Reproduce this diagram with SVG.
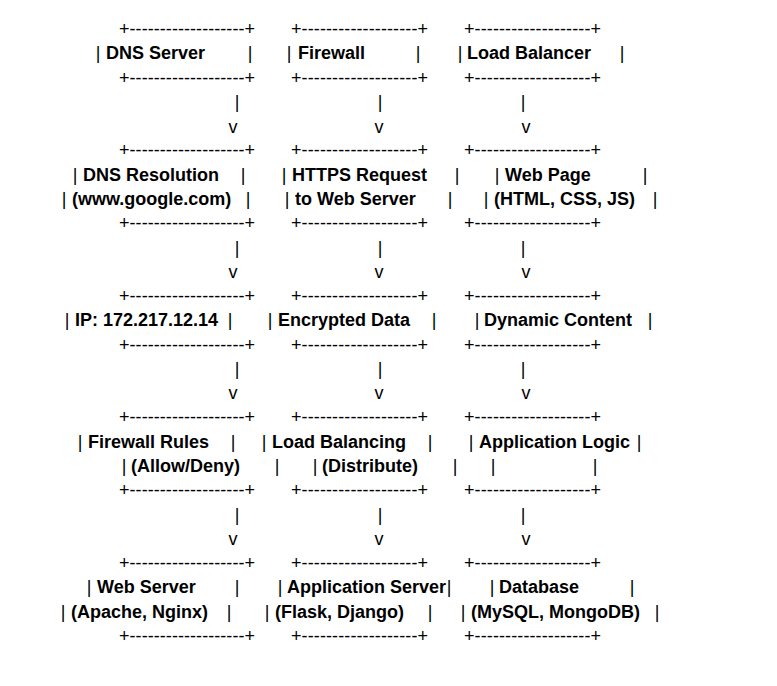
<svg xmlns="http://www.w3.org/2000/svg" width="777" height="686" viewBox="0 0 777 686">
<style>
text{font-family:"Liberation Sans",Arial,sans-serif;font-size:18px;fill:#000}
.b{font-weight:bold}
.p{text-anchor:middle}
</style>
<rect width="777" height="686" fill="#fff"/>
<g transform="translate(0,1)">
<g id="dns-server">
<text x="119" y="34" textLength="136">+-------------------+</text>
<text class="p" x="98" y="58">|</text><text class="b" x="106" y="58">DNS Server</text><text class="p" x="250" y="58">|</text>
<text x="119" y="83" textLength="136">+-------------------+</text>
</g>
<g id="firewall">
<text x="291" y="34" textLength="137">+-------------------+</text>
<text class="p" x="289" y="58">|</text><text class="b" x="298" y="58">Firewall</text><text class="p" x="418" y="58">|</text>
<text x="291" y="83" textLength="137">+-------------------+</text>
</g>
<g id="load-balancer">
<text x="464" y="34" textLength="137">+-------------------+</text>
<text class="p" x="460" y="58">|</text><text class="b" x="467" y="58">Load Balancer</text><text class="p" x="622" y="58">|</text>
<text x="464" y="83" textLength="137">+-------------------+</text>
</g>
<g id="dns-resolution">
<text x="119" y="155" textLength="136">+-------------------+</text>
<text class="p" x="75" y="180">|</text><text class="b" x="83" y="180">DNS Resolution</text><text class="p" x="243" y="180">|</text>
<text class="p" x="64" y="204">|</text><text class="b" x="72" y="204">(www.google.com)</text><text class="p" x="248" y="204">|</text>
<text x="119" y="228" textLength="136">+-------------------+</text>
</g>
<g id="https-request">
<text x="291" y="155" textLength="137">+-------------------+</text>
<text class="p" x="284" y="180">|</text><text class="b" x="292" y="180">HTTPS Request</text><text class="p" x="457" y="180">|</text>
<text class="p" x="287" y="204">|</text><text class="b" x="295" y="204">to Web Server</text><text class="p" x="450" y="204">|</text>
<text x="291" y="228" textLength="137">+-------------------+</text>
</g>
<g id="web-page">
<text x="464" y="155" textLength="137">+-------------------+</text>
<text class="p" x="497" y="180">|</text><text class="b" x="505" y="180">Web Page</text><text class="p" x="645" y="180">|</text>
<text class="p" x="486" y="204">|</text><text class="b" x="494" y="204">(HTML, CSS, JS)</text><text class="p" x="655" y="204">|</text>
<text x="464" y="228" textLength="137">+-------------------+</text>
</g>
<g id="ip">
<text x="119" y="301" textLength="136">+-------------------+</text>
<text class="p" x="67" y="325">|</text><text class="b" x="75" y="325">IP: 172.217.12.14</text><text class="p" x="230" y="325">|</text>
<text x="119" y="350" textLength="136">+-------------------+</text>
</g>
<g id="encrypted-data">
<text x="291" y="301" textLength="137">+-------------------+</text>
<text class="p" x="270" y="325">|</text><text class="b" x="278" y="325">Encrypted Data</text><text class="p" x="434" y="325">|</text>
<text x="291" y="350" textLength="137">+-------------------+</text>
</g>
<g id="dynamic-content">
<text x="464" y="301" textLength="137">+-------------------+</text>
<text class="p" x="477" y="325">|</text><text class="b" x="484" y="325">Dynamic Content</text><text class="p" x="650" y="325">|</text>
<text x="464" y="350" textLength="137">+-------------------+</text>
</g>
<g id="firewall-rules">
<text x="119" y="422" textLength="136">+-------------------+</text>
<text class="p" x="80" y="447">|</text><text class="b" x="88" y="447">Firewall Rules</text><text class="p" x="233" y="447">|</text>
<text class="p" x="124" y="471">|</text><text class="b" x="131" y="471">(Allow/Deny)</text><text class="p" x="277" y="471">|</text>
<text x="119" y="495" textLength="136">+-------------------+</text>
</g>
<g id="load-balancing">
<text x="291" y="422" textLength="137">+-------------------+</text>
<text class="p" x="264" y="447">|</text><text class="b" x="272" y="447">Load Balancing</text><text class="p" x="430" y="447">|</text>
<text class="p" x="315" y="471">|</text><text class="b" x="322" y="471">(Distribute)</text><text class="p" x="455" y="471">|</text>
<text x="291" y="495" textLength="137">+-------------------+</text>
</g>
<g id="application-logic">
<text x="464" y="422" textLength="137">+-------------------+</text>
<text class="p" x="471" y="447">|</text><text class="b" x="479" y="447">Application Logic</text><text class="p" x="639" y="447">|</text>
<text class="p" x="493" y="471">|</text><text class="p" x="595" y="471">|</text>
<text x="464" y="495" textLength="137">+-------------------+</text>
</g>
<g id="web-server">
<text x="119" y="568" textLength="136">+-------------------+</text>
<text class="p" x="89" y="592">|</text><text class="b" x="97" y="592">Web Server</text><text class="p" x="237" y="592">|</text>
<text class="p" x="63" y="617">|</text><text class="b" x="71" y="617">(Apache, Nginx)</text><text class="p" x="229" y="617">|</text>
<text x="119" y="641" textLength="136">+-------------------+</text>
</g>
<g id="application-server">
<text x="291" y="568" textLength="137">+-------------------+</text>
<text class="p" x="280" y="592">|</text><text class="b" x="287" y="592">Application Server</text><text class="p" x="449" y="592">|</text>
<text class="p" x="267" y="617">|</text><text class="b" x="275" y="617">(Flask, Django)</text><text class="p" x="430" y="617">|</text>
<text x="291" y="641" textLength="137">+-------------------+</text>
</g>
<g id="database">
<text x="464" y="568" textLength="137">+-------------------+</text>
<text class="p" x="492" y="592">|</text><text class="b" x="499" y="592">Database</text><text class="p" x="632" y="592">|</text>
<text class="p" x="463" y="617">|</text><text class="b" x="471" y="617">(MySQL, MongoDB)</text><text class="p" x="657" y="617">|</text>
<text x="464" y="641" textLength="137">+-------------------+</text>
</g>
<g id="connectors">
<text class="p" x="237" y="107">|</text><text class="p" x="380" y="107">|</text><text class="p" x="523" y="107">|</text>
<text class="p" x="233" y="132">v</text><text class="p" x="379" y="132">v</text><text class="p" x="526" y="132">v</text>
<text class="p" x="237" y="253">|</text><text class="p" x="380" y="253">|</text><text class="p" x="523" y="253">|</text>
<text class="p" x="233" y="277">v</text><text class="p" x="379" y="277">v</text><text class="p" x="526" y="277">v</text>
<text class="p" x="237" y="374">|</text><text class="p" x="380" y="374">|</text><text class="p" x="523" y="374">|</text>
<text class="p" x="233" y="398">v</text><text class="p" x="379" y="398">v</text><text class="p" x="526" y="398">v</text>
<text class="p" x="237" y="520">|</text><text class="p" x="380" y="520">|</text><text class="p" x="523" y="520">|</text>
<text class="p" x="233" y="544">v</text><text class="p" x="379" y="544">v</text><text class="p" x="526" y="544">v</text>
</g>
</g>
</svg>
